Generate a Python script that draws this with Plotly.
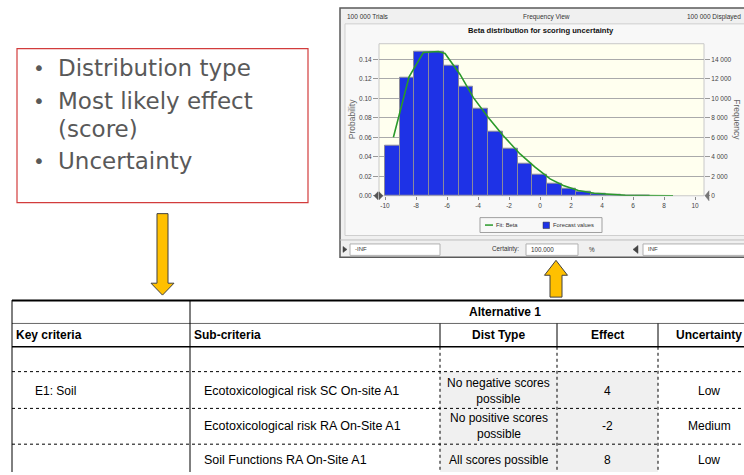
import numpy as np
import plotly.graph_objects as go

W, H = 744, 475

# ---------------- data ----------------
bin_start = -10.0
bin_width = 0.95
probability = [0.0513, 0.1211, 0.1473, 0.1476, 0.1337, 0.1120, 0.0898, 0.0660,
               0.0480, 0.0325, 0.0211, 0.0120, 0.0073, 0.0038, 0.0020, 0.0010,
               0.0005, 0.0002]
fit_x = [-9.46, -8.45, -7.53, -6.56, -6.13, -5.16, -4.3, -3.34, -2.37, -1.29,
         -0.32, 0.65, 1.5, 2.47, 3.5, 4.5, 5.5, 6.5, 7.5, 8.58]
fit_y = [0.060, 0.122, 0.147, 0.148, 0.146, 0.1245, 0.1007, 0.0803, 0.0616,
         0.0429, 0.0293, 0.0173, 0.0105, 0.0054, 0.0025, 0.0012, 0.0005,
         0.0002, 0.0001, 0.0]
trials = 100000
x_ticks = [-10, -8, -6, -4, -2, 0, 2, 4, 6, 8, 10]
prob_ticks = [0.00, 0.02, 0.04, 0.06, 0.08, 0.10, 0.12, 0.14]
freq_ticks = [0, 2000, 4000, 6000, 8000, 10000, 12000, 14000]
freq_labels = ["0", "2 000", "4 000", "6 000", "8 000", "10 000", "12 000", "14 000"]

bullets = ["Distribution type", "Most likely effect<br>(score)", "Uncertainty"]

table_header_top = "Alternative 1"
table_headers = ["Key criteria", "Sub-criteria", "Dist Type", "Effect", "Uncertainty"]
key_criteria = ["", "E1: Soil", "", ""]
sub_criteria = ["", "Ecotoxicological risk SC On-site A1",
                "Ecotoxicological risk RA On-Site A1", "Soil Functions RA On-Site A1"]
dist_type = ["", "No negative scores<br>possible", "No positive scores<br>possible",
             "All scores possible"]
effect = ["", "4", "-2", "8"]
uncertainty = ["", "Low", "Medium", "Low"]

# ---------------- helpers ----------------
def px(x):
    return x / W

def py(y):
    return 1 - y / H

shapes = []
ann = []

def rect(x0, y0, x1, y1, fill=None, line="rgba(0,0,0,0)", lw=1, dash=None):
    d = dict(type="rect", xref="paper", yref="paper", x0=px(x0), x1=px(x1),
             y0=py(y1), y1=py(y0), line=dict(color=line, width=lw), layer="below")
    if fill:
        d["fillcolor"] = fill
    if dash:
        d["line"]["dash"] = dash
    shapes.append(d)

def hline(x0, x1, y, color="black", lw=1, dash=None):
    d = dict(type="line", xref="paper", yref="paper", x0=px(x0), x1=px(x1),
             y0=py(y), y1=py(y), line=dict(color=color, width=lw), layer="above")
    if dash:
        d["line"]["dash"] = dash
    shapes.append(d)

def vline(x, y0, y1, color="black", lw=1, dash=None):
    d = dict(type="line", xref="paper", yref="paper", x0=px(x), x1=px(x),
             y0=py(y0), y1=py(y1), line=dict(color=color, width=lw), layer="above")
    if dash:
        d["line"]["dash"] = dash
    shapes.append(d)

def poly(points, fill, line="#404040", lw=1, layer="above"):
    p = "M " + " L ".join(f"{px(a):.5f},{py(b):.5f}" for a, b in points) + " Z"
    shapes.append(dict(type="path", xref="paper", yref="paper", path=p,
                       fillcolor=fill, line=dict(color=line, width=lw), layer=layer))

def text(x, y, s, size=11, color="black", xanchor="left", family="Liberation Sans",
         angle=0):
    ann.append(dict(x=px(x), y=py(y), xref="paper", yref="paper", text=s,
                    showarrow=False, xanchor=xanchor, yanchor="middle",
                    textangle=angle, font=dict(size=size, color=color, family=family)))

# ---------------- bullet box ----------------
rect(17, 49, 308, 204, fill="white", line="#d23c3c", lw=1.2)
bullet_y = [68, 102, 162]
for s, yy in zip(bullets, bullet_y):
    text(31, yy, "•", size=20, color="#595959", family="DejaVu Sans")
    if "<br>" in s:
        a, b = s.split("<br>")
        text(56, yy, a, size=23, color="#595959", family="DejaVu Sans")
        text(56, yy + 28, b, size=23, color="#595959", family="DejaVu Sans")
    else:
        text(56, yy, s, size=23, color="#595959", family="DejaVu Sans")

# ---------------- arrows ----------------
poly([(157, 215), (168, 215), (168, 285), (174, 285), (162.5, 297), (151, 285), (157, 285)],
     "#ffc000")
poly([(556, 262), (567.5, 277), (562, 277), (562, 299), (550, 299), (550, 277), (544.5, 277)],
     "#ffc000")

# ---------------- software window ----------------
rect(340, 8, 800, 259, fill="#f0f0f0", line="#5a5a5a", lw=1.5)
rect(345, 24, 800, 237, fill="#f8f8f8", line="#cfcfcf", lw=1)
rect(379, 44, 704, 197, fill="#ffffef", line="#c8c8c8", lw=1)
text(345, 17, "100 000 Trials", size=6.5, color="#333")
text(546, 17, "Frequency View", size=6.5, color="#333", xanchor="center")
text(743, 17, "100 000 Displayed", size=6.5, color="#333", xanchor="right")
text(541, 31, "<b>Beta distribution for scoring uncertainty</b>", size=7.6,
     color="#111", xanchor="center")
text(352, 120, "Probability", size=8.5, color="#666", xanchor="center", angle=-90)
text(737, 120, "Frequency", size=8.5, color="#666", xanchor="center", angle=90)

# axis end markers
poly([(374, 197), (378, 193), (378, 201)], "#555", line="#555", lw=0.5)
poly([(383, 197), (379, 193), (379, 201)], "#555", line="#555", lw=0.5)
poly([(705, 197), (709, 192), (709, 202)], "#777", line="#777", lw=0.5)

# legend
rect(480, 219, 602, 234, fill="#f8f8f8", line="#a0a0a0", lw=1)
hline(485, 493, 226.5, color="#2a9a2a", lw=1.5)
text(494, 226.5, "Fit: Beta", size=5.8, color="#333")
rect(543, 223.5, 549.5, 230, fill="#1e32e6", line="#333", lw=0.5)
text(551, 226.5, "Forecast values", size=5.8, color="#333")

# bottom strip
hline(340, 744, 241.5, color="#bdbdbd", lw=1)
poly([(343, 248), (347, 251), (343, 254)], "#444", line="#444", lw=0.5)
rect(350, 245.5, 440, 257, fill="white", line="#b0b0b0", lw=1)
text(353, 251, "-INF", size=6, color="#333")
text(521, 251, "Certainty:", size=6.3, color="#333", xanchor="right")
rect(526, 245.5, 578, 257, fill="white", line="#b0b0b0", lw=1)
text(529, 251, "100.000", size=6.3, color="#333")
text(587, 251, "%", size=6.3, color="#333")
poly([(633, 251), (638, 247), (638, 255)], "#444", line="#444", lw=0.5)
rect(643, 245.5, 800, 257, fill="white", line="#b0b0b0", lw=1)
text(646, 251, "INF", size=6, color="#333")

# ---------------- table ----------------
cols = [12, 190, 440, 557, 658]
row_lines = [374, 411, 447]
row_centers = [361, 393, 429, 463]
for i in range(1, 4):
    top = [374, 411, 447][i - 1]
    bot = [411, 447, 475][i - 1]
    rect(440, top, 658, bot, fill="#f0f0f0")

hline(12, 744, 302.5, lw=2)
hline(12, 744, 325.5, color="#666", lw=1)
hline(12, 744, 349, lw=1.5)
for yl in row_lines:
    hline(12, 744, yl, lw=1, dash="dot")
vline(12, 302, 475, lw=1)
vline(190, 302, 475, lw=1)
for xc in cols[2:]:
    vline(xc, 325.5, 349, lw=1)
    vline(xc, 349, 475, lw=1, dash="dot")

text(467, 313.5, "<b>" + table_header_top + "</b>", size=12)
text(14, 337, "<b>" + table_headers[0] + "</b>", size=12)
text(192, 337, "<b>" + table_headers[1] + "</b>", size=12)
text(498.5, 337, "<b>" + table_headers[2] + "</b>", size=12, xanchor="center")
text(607.5, 337, "<b>" + table_headers[3] + "</b>", size=12, xanchor="center")
text(709, 337, "<b>" + table_headers[4] + "</b>", size=12, xanchor="center")

for i in range(4):
    yc = row_centers[i]
    if key_criteria[i]:
        text(33, yc, key_criteria[i], size=12)
    if sub_criteria[i]:
        text(202, yc, sub_criteria[i], size=12.5)
    if dist_type[i]:
        ann.append(dict(x=px(498.5), y=py(yc), xref="paper", yref="paper",
                        text=dist_type[i], showarrow=False, xanchor="center",
                        yanchor="middle", align="center",
                        font=dict(size=12, color="black", family="Liberation Sans")))
    if effect[i]:
        text(607.5, yc, effect[i], size=12, xanchor="center")
    if uncertainty[i]:
        text(709, yc, uncertainty[i], size=12, xanchor="center")

# ---------------- histogram ----------------
n = len(probability)
centers = bin_start + bin_width * (np.arange(n) + 0.5)

fig = go.Figure()
fig.add_trace(go.Bar(x=centers, y=probability, width=bin_width,
                     marker=dict(color="#1e32e6", line=dict(color="#8a8a9a", width=1)),
                     name="Forecast values", showlegend=False))
fig.add_trace(go.Scatter(x=fit_x, y=fit_y, mode="lines",
                         line=dict(color="#2a9a2a", width=1.6),
                         name="Fit: Beta", showlegend=False))
fig.add_trace(go.Scatter(x=centers, y=[p * trials for p in probability], mode="markers",
                         marker=dict(opacity=0), yaxis="y2", showlegend=False,
                         hoverinfo="skip"))

fig.update_layout(
    width=W, height=H, autosize=False,
    margin=dict(l=0, r=0, t=0, b=0),
    paper_bgcolor="white", plot_bgcolor="rgba(0,0,0,0)",
    bargap=0,
    xaxis=dict(domain=[px(379), px(704)], range=[-10.39, 10.58],
               tickvals=x_ticks, ticktext=[str(v) for v in x_ticks],
               ticks="outside", ticklen=3, tickcolor="#888",
               tickfont=dict(size=6.5, color="#444", family="Liberation Sans"),
               showgrid=False, zeroline=False, showline=False),
    yaxis=dict(domain=[py(197), py(44)], range=[0, 0.156],
               tickvals=prob_ticks, ticktext=[f"{v:.2f}" for v in prob_ticks],
               ticks="outside", ticklen=5, tickcolor="#999",
               tickfont=dict(size=6.5, color="#444", family="Liberation Sans"),
               showgrid=True, gridcolor="#aaaaaa", gridwidth=1,
               zeroline=False, showline=False),
    yaxis2=dict(overlaying="y", side="right", range=[0, 0.156 * trials],
                tickvals=freq_ticks, ticktext=freq_labels,
                ticks="outside", ticklen=5, tickcolor="#999",
                tickfont=dict(size=6.5, color="#444", family="Liberation Sans"),
                showgrid=False, zeroline=False, showline=False),
    shapes=shapes,
    annotations=ann,
)

fig.write_html("out.html", config={"displayModeBar": False},
               post_script="document.body.style.margin='0px';")
